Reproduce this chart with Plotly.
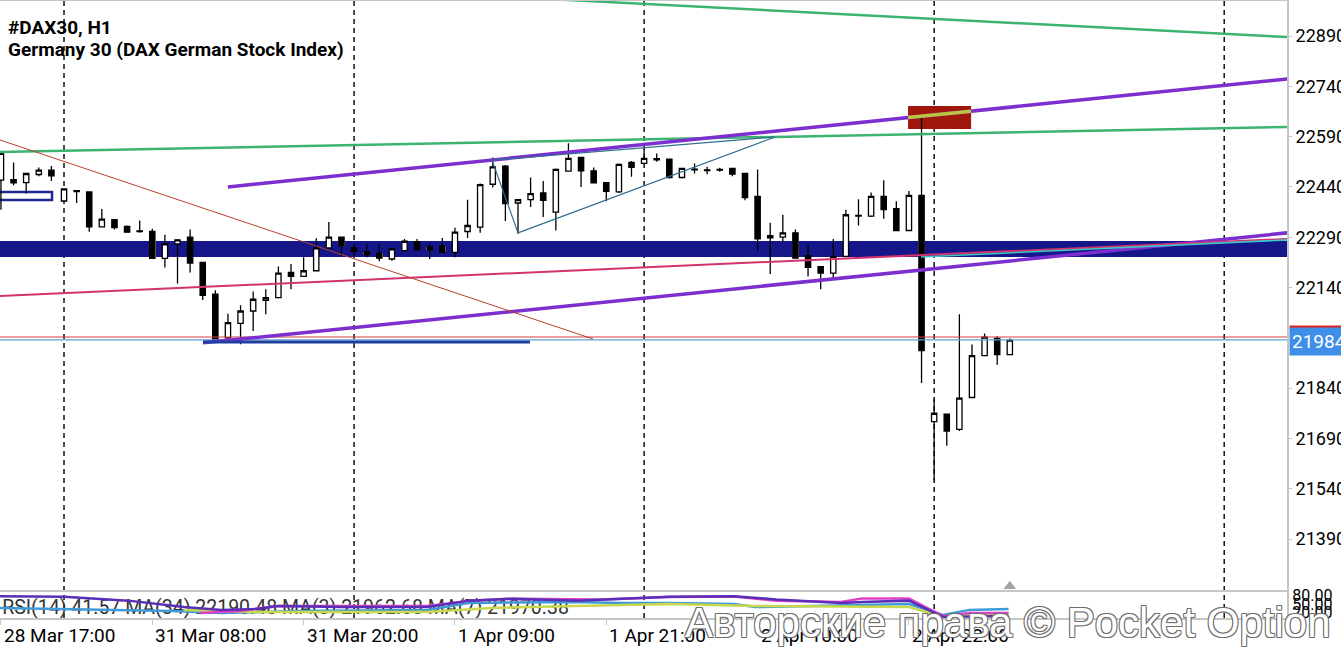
import plotly.graph_objects as go

# ---------------- data ----------------
time_labels = ["28 Mar 17:00", "31 Mar 08:00", "31 Mar 20:00", "1 Apr 09:00",
               "1 Apr 21:00", "2 Apr 10:00", "2 Apr 22:00"]
label_idx = [0, 12, 24, 36, 48, 60, 72]
day_sep_idx = [5, 28, 51, 74, 97]

opens = [22460, 22462, 22453, 22477, 22490, 22398, 22429, 22425, 22321, 22342,
         22322, 22309, 22307, 22227, 22270, 22290, 22215, 22120, 21990, 22033,
         22070, 22102, 22110, 22185, 22173, 22190, 22258, 22290, 22258, 22247,
         22242, 22225, 22250, 22277, 22260, 22263, 22245, 22307, 22320, 22448,
         22502, 22392, 22402, 22422, 22365, 22487, 22528, 22488, 22453, 22425,
         22513, 22510, 22524, 22523, 22468, 22493, 22491, 22492, 22495, 22480,
         22412, 22295, 22290, 22303, 22235, 22202, 22183, 22233, 22355, 22353,
         22412, 22375, 22310, 22415, 21740, 21762, 21717, 21812, 21937, 21988,
         21940]
highs = [22545, 22513, 22482, 22498, 22502, 22436, 22431, 22427, 22374, 22344,
         22325, 22340, 22315, 22297, 22285, 22313, 22217, 22132, 22062, 22087,
         22128, 22135, 22203, 22210, 22230, 22287, 22335, 22292, 22270, 22270,
         22270, 22258, 22285, 22285, 22270, 22288, 22318, 22402, 22450, 22528,
         22505, 22404, 22468, 22458, 22495, 22570, 22530, 22498, 22455, 22510,
         22517, 22552, 22540, 22525, 22497, 22510, 22500, 22497, 22497, 22482,
         22492, 22333, 22357, 22313, 22265, 22204, 22285, 22372, 22403, 22423,
         22460, 22397, 22428, 22650, 21807, 21763, 22060, 21970, 22003, 21995,
         21988]
lows = [22372, 22445, 22420, 22472, 22458, 22396, 22392, 22306, 22319, 22313,
        22303, 22303, 22225, 22200, 22152, 22185, 22103, 21978, 21985, 21971,
        22010, 22060, 22108, 22135, 22172, 22188, 22256, 22235, 22235, 22230,
        22218, 22220, 22248, 22250, 22225, 22243, 22230, 22288, 22303, 22438,
        22338, 22300, 22380, 22350, 22310, 22485, 22440, 22450, 22397, 22422,
        22470, 22508, 22515, 22465, 22465, 22480, 22478, 22485, 22472, 22400,
        22250, 22180, 22275, 22225, 22173, 22135, 22170, 22230, 22325, 22350,
        22345, 22308, 22308, 21855, 21565, 21668, 21712, 21810, 21935, 21910,
        21938]
closes = [22540, 22452, 22480, 22490, 22473, 22434, 22426, 22321, 22344, 22319,
          22305, 22307, 22227, 22270, 22282, 22213, 22117, 21983, 22035, 22070,
          22105, 22110, 22183, 22173, 22190, 22258, 22290, 22265, 22248, 22238,
          22228, 22255, 22278, 22253, 22253, 22245, 22305, 22325, 22447, 22500,
          22390, 22402, 22420, 22400, 22492, 22525, 22488, 22452, 22427, 22507,
          22498, 22525, 22521, 22468, 22495, 22491, 22489, 22490, 22478, 22408,
          22285, 22288, 22303, 22228, 22200, 22183, 22233, 22357, 22353, 22412,
          22372, 22310, 22415, 21952, 21765, 21712, 21810, 21937, 21992, 21940,
          21983]
candle_idx = list(range(len(opens)))

y_ticks = [22890, 22740, 22590, 22440, 22290, 22140, 21840, 21690, 21540, 21390]
bid_price = 21984
ask_price = 21992.5

# RSI sub-window lines (x = bar index, y = indicator level)
rsi_x = [-0.08, 5, 10.1, 14.5, 17.5, 20.2, 22, 27, 33.8, 37.2, 40.6, 45.7, 53, 58.1,
         61.5, 66.6, 68.3, 72, 74.7, 79.9]
rsi_y = [78, 76, 62, 39, 29, 32, 43, 39, 39, 62, 69, 62, 76, 78,
         66, 54, 57, 62, 4, 7]
ma3_x = [15.8, 18.9, 22, 27, 33.8, 37.2, 40.6, 47.5, 53, 58.1, 61.5, 66.6, 68.3, 72,
         74.7, 76.8, 79.9]
ma3_y = [18, 25, 43, 43, 43, 62, 69, 66, 75, 77, 62, 57, 70, 70, 7, 18, 18]
ma34_x = [-0.08, 5, 13.5, 17.5, 23.6, 33.8, 37.2, 45.7, 49.1, 53, 58.1, 59.8, 72,
          74.7, 76.8, 79.9]
ma34_y = [36, 32, 25, 18, 25, 29, 54, 57, 54, 54, 50, 39, 50, 11, 29, 32]
ma7_x = [14.5, 20.2, 33.8, 38.9, 53, 59.8, 72, 74.7, 79.9]
ma7_y = [29, 21, 21, 36, 50, 43, 39, 4, 18]
rsi_text = "RSI(14) 41.57 MA(34) 22190.48 MA(3) 21962.68 MA(7) 21970.38"

# chart objects (bar index, price)
band = (22231, 22279)
trendlines = [
    # x0, y0, x1, y1, color, width
    (40.0, 23007, 102.0, 22887, "#3cb371", 2.5),
    (-0.08, 22544, 102.0, 22619, "#3cb371", 2.5),
    (18.0, 22440, 102.0, 22762, "#7c2ecf", 3.5),
    (16.02, 21975, 102.0, 22303, "#7c2ecf", 3.5),
    (-0.08, 22115, 102.0, 22285, "#d2336c", 2),
    (-0.08, 22580, 46.95, 21986.5, "#b8412a", 1),
    (38.94, 22520, 41.0, 22303, "#2f6f8f", 1.2),
    (41.0, 22303, 61.38, 22589, "#2f6f8f", 1.2),
    (38.94, 22520, 61.38, 22589, "#2f6f8f", 1.2),
    (72.96, 22231, 102.0, 22282, "#3cc8c8", 1.6),
    (16.02, 21977.6, 41.95, 21977.6, "#1d3f9e", 3),
]
red_rect = (71.93, 22613, 76.93, 22681)
small_rect = (-0.6, 22401, 4.05, 22425)

X_RANGE = [-0.076, 101.98]
Y_RANGE = [21238.0, 22994.4]

FONT = "Roboto"

# ---------------- figure ----------------
fig = go.Figure()

fig.add_trace(go.Candlestick(
    x=candle_idx, open=opens, high=highs, low=lows, close=closes,
    increasing=dict(fillcolor="white", line=dict(color="black", width=1.3)),
    decreasing=dict(fillcolor="black", line=dict(color="black", width=1.3)),
    whiskerwidth=0, hoverinfo="skip", showlegend=False, xaxis="x", yaxis="y"))

# body parts inside the filled band (drawn as XOR-like colours)
ov_x, ov_b, ov_h, ov_c = [], [], [], []
for i, o, c in zip(candle_idx, opens, closes):
    lo, hi = min(o, c), max(o, c)
    a, b = max(lo, band[0]), min(hi, band[1])
    if b > a:
        ov_x.append(i)
        ov_b.append(a)
        ov_h.append(b - a)
        ov_c.append("#e9e37c" if c < o else "#15168a")
fig.add_trace(go.Bar(x=ov_x, y=ov_h, base=ov_b, width=0.52,
                     marker=dict(color=ov_c, line=dict(width=0)),
                     hoverinfo="skip", showlegend=False, xaxis="x", yaxis="y"))

# shift marker
fig.add_trace(go.Scatter(x=[80], y=[21249], mode="markers",
                         marker=dict(symbol="triangle-up", size=11, color="#a3a3a3"),
                         cliponaxis=False, hoverinfo="skip", showlegend=False,
                         xaxis="x", yaxis="y"))

# RSI window
fig.add_trace(go.Scatter(x=[0.1], y=[32], mode="text", text=[rsi_text],
                         textposition="middle right",
                         textfont=dict(family=FONT, size=19.5, color="#333333"),
                         cliponaxis=False, hoverinfo="skip", showlegend=False,
                         xaxis="x2", yaxis="y2"))
for xs, ys, col in [(ma34_x, ma34_y, "#3f9ad8"), (ma7_x, ma7_y, "#c9d84c"),
                    (ma3_x, ma3_y, "#e040c8"), (rsi_x, rsi_y, "#5a2fb8")]:
    fig.add_trace(go.Scatter(x=xs, y=ys, mode="lines", line=dict(color=col, width=2.5),
                             hoverinfo="skip", showlegend=False, xaxis="x2", yaxis="y2"))

shapes = []
shapes.append(dict(type="rect", xref="x", yref="y", x0=X_RANGE[0] - 1, x1=X_RANGE[1] + 1,
                   y0=band[0], y1=band[1], fillcolor="#15168a", line=dict(width=0),
                   layer="below"))
shapes.append(dict(type="rect", xref="x", yref="y", x0=red_rect[0], x1=red_rect[2],
                   y0=red_rect[1], y1=red_rect[3], fillcolor="#a0170b",
                   line=dict(width=0), layer="below"))
shapes.append(dict(type="rect", xref="x", yref="y", x0=small_rect[0], x1=small_rect[2],
                   y0=small_rect[1], y1=small_rect[3], fillcolor="white",
                   line=dict(color="#1e2a90", width=2.5), layer="below"))
for d in day_sep_idx:
    shapes.append(dict(type="line", xref="x", yref="paper", x0=d, x1=d, y0=0, y1=1,
                       line=dict(color="black", width=1.4, dash="5px,4px"), layer="below"))
shapes.append(dict(type="line", xref="x", yref="y", x0=X_RANGE[0], x1=X_RANGE[1],
                   y0=ask_price, y1=ask_price, line=dict(color="#d04040", width=1.2)))
shapes.append(dict(type="line", xref="x", yref="y", x0=X_RANGE[0], x1=X_RANGE[1],
                   y0=bid_price, y1=bid_price, line=dict(color="#5f9fd8", width=1.2)))
for x0, y0, x1, y1, col, w in trendlines:
    shapes.append(dict(type="line", xref="x", yref="y", x0=x0, y0=y0, x1=x1, y1=y1,
                       line=dict(color=col, width=w)))
# purple line seen through the red box
px0, py0, px1, py1 = trendlines[2][:4]
slope = (py1 - py0) / (px1 - px0)
shapes.append(dict(type="line", xref="x", yref="y",
                   x0=red_rect[0], y0=py0 + slope * (red_rect[0] - px0),
                   x1=red_rect[2], y1=py0 + slope * (red_rect[2] - px0),
                   line=dict(color="#b9c63e", width=3.5)))
# ask marker on the price scale
shapes.append(dict(type="line", xref="paper", yref="y", x0=1.002, x1=1.06,
                   y0=22022, y1=22022, line=dict(color="#e02020", width=3)))

annotations = []
for i, lab in zip(label_idx, time_labels):
    annotations.append(dict(x=i, xref="x2", y=0, yref="paper", text=lab, showarrow=False,
                            xanchor="left", yanchor="top", xshift=1, yshift=-4,
                            font=dict(family=FONT, size=19, color="black")))
annotations.append(dict(x=0, xref="paper", y=1, yref="paper", text="<b>#DAX30, H1</b>",
                        showarrow=False, xanchor="left", yanchor="top", xshift=6, yshift=-13,
                        font=dict(family=FONT, size=19, color="black")))
annotations.append(dict(x=0, xref="paper", y=1, yref="paper",
                        text="<b>Germany 30 (DAX German Stock Index)</b>",
                        showarrow=False, xanchor="left", yanchor="top", xshift=6, yshift=-35,
                        font=dict(family=FONT, size=19, color="black")))
annotations.append(dict(x=1, xref="paper", y=21980, yref="y", text=str(bid_price),
                        showarrow=False, xanchor="left", yanchor="middle", xshift=2,
                        bgcolor="#3f8fe9", borderpad=2,
                        font=dict(family=FONT, size=19, color="white")))
annotations.append(dict(x=683 / 1287, xref="paper", y=0, yref="paper",
                        text="Авторские права © Pocket Option", showarrow=False,
                        xanchor="left", yanchor="middle", yshift=-4,
                        font=dict(family="Liberation Sans", size=42, color="white",
                                  shadow="-1px -1px 0 #6e6e6e, 1px -1px 0 #6e6e6e, "
                                         "-1px 1px 0 #6e6e6e, 1px 1px 0 #6e6e6e")))

fig.update_layout(
    width=1341, height=648,
    margin=dict(l=0, r=54, t=1, b=30, autoexpand=False),
    paper_bgcolor="white", plot_bgcolor="white",
    showlegend=False, boxgap=0.4, bargap=0,
    shapes=shapes, annotations=annotations,
    xaxis=dict(range=X_RANGE, anchor="y", showticklabels=False, showgrid=False,
               zeroline=False, showline=True, linecolor="#c6c6c6", linewidth=2,
               mirror=True, ticks="", rangeslider=dict(visible=False)),
    xaxis2=dict(range=X_RANGE, anchor="y2", matches="x", showticklabels=False,
                showgrid=False, zeroline=False, showline=True, linecolor="#c6c6c6",
                linewidth=2, ticks="outside", tickvals=label_idx, ticklen=5,
                tickcolor="#c6c6c6"),
    yaxis=dict(domain=[0.0454, 1], range=Y_RANGE, side="right", anchor="x",
               tickvals=y_ticks, tickformat="d", ticks="outside", ticklen=3,
               tickcolor="#c6c6c6", showgrid=False, zeroline=False, showline=True,
               linecolor="#c6c6c6", linewidth=2,
               tickfont=dict(family=FONT, size=18, color="black")),
    yaxis2=dict(domain=[0, 0.0454], range=[0, 100], side="right", anchor="x2",
                tickvals=[20, 50, 80], tickformat=".2f", ticks="", showgrid=False,
                zeroline=False, showline=True, linecolor="#c6c6c6", linewidth=2,
                tickfont=dict(family=FONT, size=16, color="black")),
)

fig.write_html("out.html", config={"displayModeBar": False},
               post_script="document.body.style.margin='0';"
                           "document.body.style.overflow='hidden';")
